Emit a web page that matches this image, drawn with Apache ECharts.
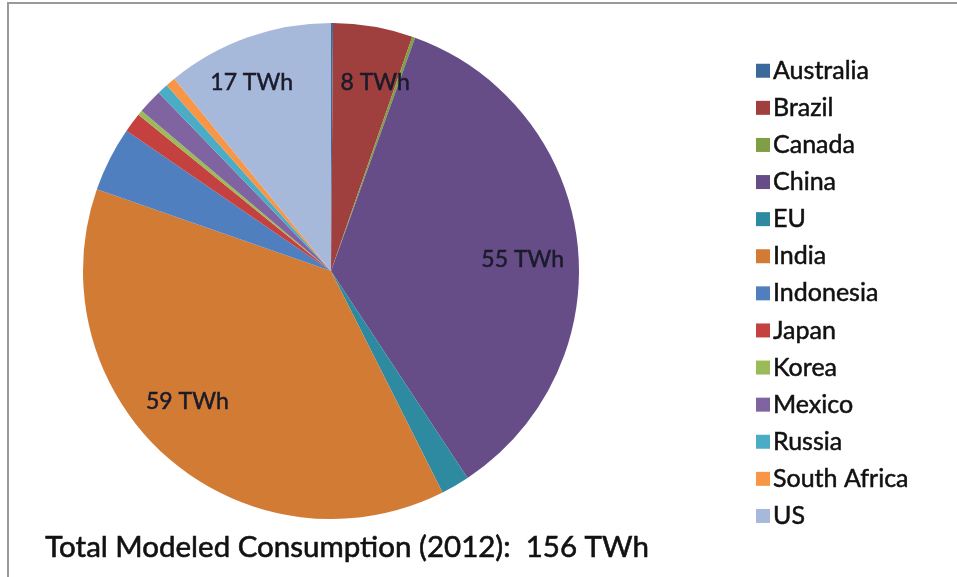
<!DOCTYPE html>
<html>
<head>
<meta charset="utf-8">
<script src="https://cdn.jsdelivr.net/npm/echarts@6/dist/echarts.min.js"></script>
<style>
html,body{margin:0;padding:0;background:#fff;}
#c{width:957px;height:577px;}
</style>
</head>
<body>
<div id="c"></div>
<script>
const countries = ['Australia','Brazil','Canada','China','EU','India','Indonesia','Japan','Korea','Mexico','Russia','South Africa','US'];
const consumptionTWh = [0.2, 8.1, 0.3, 55, 2.9, 59, 6.6, 2, 0.5, 2.5, 1.1, 1, 17];
const labelledCountries = ['Brazil','China','India','US'];
const sliceColors = ['#3B6A9A','#A0403E','#7F9E45','#664D88','#2E8AA0','#D27B35','#4F7FBE','#C4413F','#9BBB59','#8064A2','#4BACC6','#F79646','#A7B9DA'];
const titleText = 'Total Modeled Consumption (2012):  156 TWh';

// label nudges (layout only)
const labelNudge = { Brazil: [12, -2], China: [4, 11], India: [-19, -12], US: [-16, -10] };

const FONT = 'Lato, "Open Sans", sans-serif';
const cx = 331, cy = 271, R = 248;

const pieData = countries.map((n, i) => ({ name: n, value: consumptionTWh[i], itemStyle: { color: sliceColors[i] } }));
const labelData = countries.map((n, i) => ({
  name: n, value: consumptionTWh[i],
  label: { show: labelledCountries.includes(n), offset: labelNudge[n] || [0, 0] }
}));

const chart = echarts.init(document.getElementById('c'), null, { renderer: 'canvas' });
chart.setOption({
  backgroundColor: '#ffffff',
  animation: false,
  graphic: [
    { type: 'line', shape: { x1: 7, y1: 3, x2: 957, y2: 3 }, style: { stroke: '#9a9a9a', lineWidth: 2 } },
    { type: 'line', shape: { x1: 8, y1: 3, x2: 8, y2: 577 }, style: { stroke: '#9a9a9a', lineWidth: 2 } },
    { type: 'text', left: 45, top: 532, style: { text: titleText, font: '29.5px ' + FONT, fill: '#111', stroke: '#111', lineWidth: 0.6 } }
  ],
  legend: {
    orient: 'vertical',
    left: 751, top: 53,
    height: 520,
    itemWidth: 14, itemHeight: 14,
    itemGap: 11.6,
    icon: 'rect',
    data: countries,
    textStyle: { fontFamily: FONT, fontSize: 25, lineHeight: 25, color: '#111', textBorderColor: '#111', textBorderWidth: 0.5, padding: [0, 0, 0, -2] }
  },
  series: [
    {
      type: 'pie',
      center: [cx, cy],
      radius: [0, R],
      startAngle: 90,
      clockwise: true,
      avoidLabelOverlap: false,
      label: { show: false },
      labelLine: { show: false },
      itemStyle: { borderWidth: 0 },
      emphasis: { disabled: true },
      data: pieData
    },
    {
      type: 'pie',
      center: [cx, cy],
      radius: [R * 0.5, R],
      startAngle: 90,
      clockwise: true,
      silent: true,
      avoidLabelOverlap: false,
      itemStyle: { color: 'rgba(0,0,0,0)' },
      labelLine: { show: false },
      label: {
        position: 'inside',
        formatter: p => Math.round(p.value) + ' TWh',
        fontFamily: FONT, fontSize: 23, color: '#1a1a2a',
        textBorderColor: '#1a1a2a', textBorderWidth: 0.5
      },
      emphasis: { disabled: true },
      data: labelData
    }
  ]
});
</script>
</body>
</html>
